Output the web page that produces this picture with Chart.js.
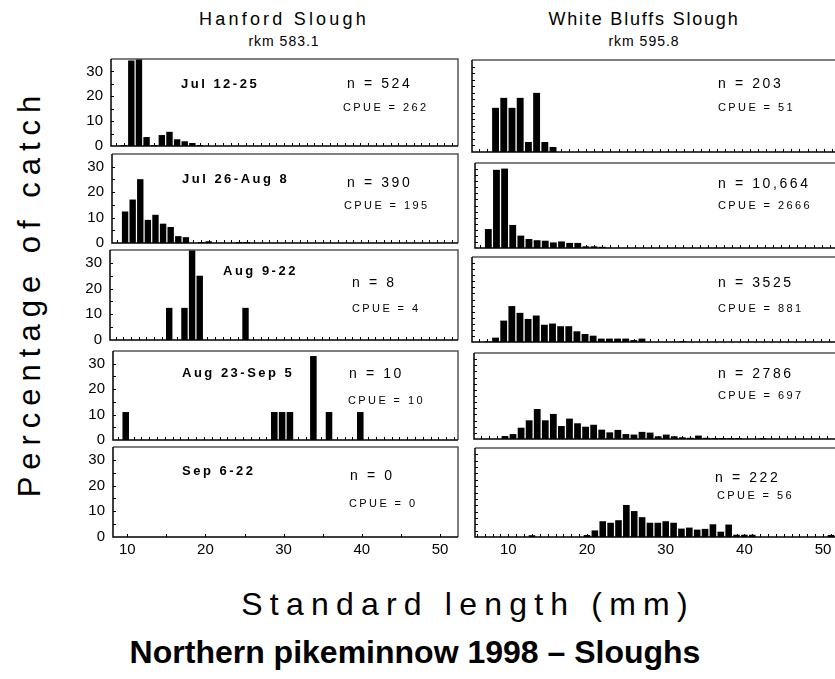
<!DOCTYPE html>
<html>
<head>
<meta charset="utf-8">
<script src="https://cdn.jsdelivr.net/npm/chart.js@4.4.1/dist/chart.umd.min.js"></script>
<style>
  html, body { margin: 0; padding: 0; width: 835px; height: 679px; overflow: hidden; background: #fff; }
  body { position: relative; font-family: "Liberation Sans", Arial, sans-serif; color: #000; }
  canvas { position: absolute; }
  .t { position: absolute; white-space: nowrap; line-height: 1; transform: translateY(-50%); }
  .c { transform: translate(-50%, -50%); }
  .colhead { font-size: 18px; }
  .rkm { font-size: 14px; letter-spacing: 1px; }
  .period { font-size: 13px; font-weight: bold; letter-spacing: 2.5px; }
  .n { font-size: 14px; letter-spacing: 2.6px; }
  .cpue { font-size: 11px; letter-spacing: 2.4px; }
</style>
</head>
<body>
<div class="t c colhead" style="left:284px; top:19px; letter-spacing:3.2px;">Hanford Slough</div>
<div class="t c rkm" style="left:284px; top:41px;">rkm 583.1</div>
<div class="t c colhead" style="left:644px; top:19px; letter-spacing:1.8px;">White Bluffs Slough</div>
<div class="t c rkm" style="left:644px; top:41px;">rkm 595.8</div>
<div class="t" style="left:29px; top:293px; font-size:31px; letter-spacing:7px; transform:translate(-50%,-50%) rotate(-90deg);">Percentage of catch</div>
<div class="t c" style="left:468px; top:604px; font-size:32px; letter-spacing:7.2px;">Standard length (mm)</div>
<div class="t c" style="left:415px; top:652px; font-size:32px; font-weight:bold;">Northern pikeminnow 1998 – Sloughs</div>

<script>
// 1-mm length bins, percentages
const lengthMm = [5, 6, 7, 8, 9, 10, 11, 12, 13, 14,
                  15, 16, 17, 18, 19, 20, 21, 22, 23, 24,
                  25, 26, 27, 28, 29, 30, 31, 32, 33, 34,
                  35, 36, 37, 38, 39, 40, 41, 42, 43, 44,
                  45, 46, 47, 48, 49, 50, 51, 52];

const yTickLabels = [0, 10, 20, 30];
const xTickLabels = [10, 20, 30, 40, 50];

const periods = ['Jul 12-25', 'Jul 26-Aug 8', 'Aug 9-22', 'Aug 23-Sep 5', 'Sep 6-22'];
const hanfordN = ['524', '390', '8', '10', '0'];
const hanfordCpue = ['262', '195', '4', '10', '0'];
const bluffsN = ['203', '10,664', '3525', '2786', '222'];
const bluffsCpue = ['51', '2666', '881', '697', '56'];

// Hanford Slough
const hanfordJul12 = [0, 0, 0, 0, 0.4, 34.4, 40, 3.6, 0.4, 4.4,
                      5.7, 2.7, 1.9, 1.2, 0.4, 0, 0, 0, 0, 0];
const hanfordJul26 = [0, 0, 0, 0, 0, 12.4, 17.1, 25.1, 9.1, 11.1,
                      7.6, 6.3, 2.7, 2.3, 0, 0.4, 0.7, 0, 0, 0,
                      0.4, 0.4];
const hanfordAug9 = [0, 0, 0, 0, 0, 0, 0, 0, 0, 0,
                     12.5, 0, 12.5, 37.5, 25, 0, 0, 0, 0, 0,
                     12.5];
const hanfordAug23 = [0, 0, 0, 0, 0, 11, 0, 0, 0, 0,
                      0, 0, 0, 0, 0, 0, 0, 0, 0, 0,
                      0, 0, 0, 0, 11, 11, 11, 0, 0, 33,
                      0, 11, 0, 0, 0, 11];
const hanfordSep6 = [];

// White Bluffs Slough
const bluffsJul12 = [0, 0, 0, 16.8, 20.6, 16.8, 20.6, 3.8, 22.5, 3.8,
                     1.9];
const bluffsJul26 = [0, 0, 0, 7.8, 32.2, 32.7, 9.5, 5.1, 3.7, 3.2,
                     3.0, 2.3, 2.7, 2.1, 2.1, 0.7, 0.7, 0.5];
const bluffsAug9 = [0, 0, 0.2, 1.8, 8.8, 14.8, 12.0, 9.5, 10.9, 7.1,
                    7.6, 6.5, 6.5, 4.4, 3.3, 2.6, 1.4, 1.4, 1.4, 1.4,
                    0.8, 1.4, 0, 0, 0, 0, 0.3];
const bluffsAug23 = [0, 0, 0, 0, 0, 1.2, 2.0, 4.6, 7.6, 12.2,
                     7.6, 10.2, 5.3, 8.3, 6.4, 5.0, 5.8, 3.8, 2.7, 3.7,
                     2.0, 1.8, 2.9, 2.6, 1.1, 1.8, 1.1, 0.7, 0.5, 1.4,
                     0.5, 0.4, 0.4, 0.3, 0.4, 0, 0, 0.4];
const bluffsSep6 = [0, 0, 0, 0, 0, 0, 0, 0, 0.7, 0,
                    0, 0, 0, 0, 0, 0.8, 2.6, 6.2, 5.6, 6.6,
                    12.6, 10.2, 7.8, 5.6, 5.6, 6.2, 5.6, 3.3, 3.7, 2.9,
                    3.2, 5.0, 2.1, 4.9, 0.9, 0.9, 0.9, 0, 0, 0,
                    0, 0, 0, 0, 0, 0, 0.8];

const hanford = [hanfordJul12, hanfordJul26, hanfordAug9, hanfordAug23, hanfordSep6];
const bluffs = [bluffsJul12, bluffsJul26, bluffsAug9, bluffsAug23, bluffsSep6];

// panel boxes [left, top, right, bottom] and visible length range
const leftBoxes = [[111, 59, 458, 146], [112, 154, 458, 243], [110, 250, 458, 340], [113, 351, 458, 440], [113, 447, 458, 537]];
const leftRanges = [[7.34, 52.8], [8.28, 53.8], [7.24, 52.85], [8.37, 52.5], [8.18, 52.3]];
const rightBoxes = [[472, 60, 842, 152], [475, 163, 842, 248], [472, 257, 842, 342], [474, 353, 842, 439], [475, 448, 842, 537]];
const rightRanges = [[5.13, 50.2], [6.36, 51.5], [5.1, 50.6], [6.16, 51.8], [5.77, 52.4]];

// text spots [x, y] for period / n / CPUE
const leftText = [
    [[181, 83], [347, 83], [343, 107]],
    [[182, 178], [347, 182], [344, 205]],
    [[223, 270], [352, 282], [352, 308]],
    [[182, 372], [349, 373], [348, 400]],
    [[182, 470], [350, 475], [349, 503]]
];
const rightText = [
    [[718, 83], [718, 107]],
    [[718, 183], [718, 205]],
    [[718, 282], [718, 308]],
    [[718, 373], [718, 395]],
    [[715, 477], [717, 495]]
];

const FONT = '"Liberation Sans", Arial, sans-serif';

const framePlugin = {
    id: 'frame',
    afterDraw(chart, args, o) {
        const { ctx, chartArea: a, scales: { x, y } } = chart;
        ctx.save();
        ctx.strokeStyle = '#000';
        ctx.lineWidth = 1;
        ctx.beginPath();
        for (let v = o.yStep; v < 35; v += o.yStep) {
            const py = Math.round(y.getPixelForValue(v)) + 0.5;
            ctx.moveTo(a.left, py);
            ctx.lineTo(a.left + 3, py);
        }
        for (let v = Math.ceil(x.min / o.xStep) * o.xStep; v < x.max; v += o.xStep) {
            const px = Math.round(x.getPixelForValue(v)) + 0.5;
            ctx.moveTo(px, a.bottom);
            ctx.lineTo(px, a.bottom - 3);
        }
        ctx.stroke();

        ctx.lineWidth = 1.5;
        ctx.strokeStyle = '#555';
        ctx.beginPath();
        ctx.moveTo(a.left, a.top);
        ctx.lineTo(a.right, a.top);
        ctx.lineTo(a.right, a.bottom);
        ctx.stroke();
        ctx.strokeStyle = '#000';
        ctx.beginPath();
        ctx.moveTo(a.left, a.top);
        ctx.lineTo(a.left, a.bottom);
        ctx.lineTo(a.right, a.bottom);
        ctx.stroke();

        ctx.fillStyle = '#000';
        ctx.font = '15px ' + FONT;
        if (o.yLabels) {
            ctx.textAlign = 'right';
            ctx.textBaseline = 'middle';
            yTickLabels.forEach(v => ctx.fillText(String(v), a.left - 8, y.getPixelForValue(v)));
        }
        if (o.xLabels) {
            ctx.textAlign = 'center';
            ctx.textBaseline = 'top';
            xTickLabels.forEach(v => ctx.fillText(String(v), x.getPixelForValue(v), a.bottom + 5));
        }
        ctx.restore();
    }
};

function createPanel(values, box, range, isLeft, isBottom) {
    const padL = isLeft ? 36 : 4, padR = 4, padT = 4, padB = isBottom ? 26 : 4;
    const cv = document.createElement('canvas');
    const w = box[2] - box[0] + padL + padR;
    const h = box[3] - box[1] + padT + padB;
    cv.width = w;
    cv.height = h;
    cv.style.left = (box[0] - padL) + 'px';
    cv.style.top = (box[1] - padT) + 'px';
    cv.style.width = w + 'px';
    cv.style.height = h + 'px';
    document.body.appendChild(cv);

    const points = values.map((v, i) => ({ x: lengthMm[i], y: v }));

    return new Chart(cv.getContext('2d'), {
        type: 'bar',
        data: {
            datasets: [{
                data: points,
                backgroundColor: '#000',
                borderWidth: 0,
                barPercentage: 0.84,
                categoryPercentage: 1,
                clip: 0
            }]
        },
        options: {
            responsive: false,
            animation: false,
            devicePixelRatio: 1,
            layout: { padding: { left: padL, right: padR, top: padT, bottom: padB } },
            plugins: {
                legend: { display: false },
                tooltip: { enabled: false },
                frame: { yStep: isLeft ? 5 : 2.5, xStep: (isLeft && isBottom) ? 5 : 1, yLabels: isLeft, xLabels: isBottom }
            },
            scales: {
                x: { type: 'linear', min: range[0], max: range[1], offset: false, display: false },
                y: { min: 0, max: 35, display: false }
            }
        },
        plugins: [framePlugin]
    });
}

function addText(cls, text, pos) {
    const d = document.createElement('div');
    d.className = 't ' + cls;
    d.textContent = text;
    d.style.left = pos[0] + 'px';
    d.style.top = pos[1] + 'px';
    document.body.appendChild(d);
}

for (let r = 0; r < 5; r++) {
    createPanel(hanford[r], leftBoxes[r], leftRanges[r], true, r === 4);
    createPanel(bluffs[r], rightBoxes[r], rightRanges[r], false, r === 4);
    addText('period', periods[r], leftText[r][0]);
    addText('n', 'n = ' + hanfordN[r], leftText[r][1]);
    addText('cpue', 'CPUE = ' + hanfordCpue[r], leftText[r][2]);
    addText('n', 'n = ' + bluffsN[r], rightText[r][0]);
    addText('cpue', 'CPUE = ' + bluffsCpue[r], rightText[r][1]);
}
</script>
</body>
</html>
